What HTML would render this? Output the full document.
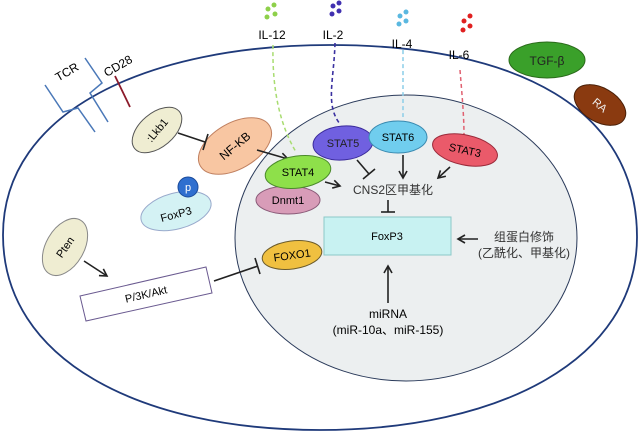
<!DOCTYPE html>
<html><head><meta charset="utf-8"><style>
html,body{margin:0;padding:0;background:#fff;}
svg{display:block;font-family:"Liberation Sans","Noto Sans CJK SC",sans-serif;}
</style></head><body>
<svg width="640" height="432" viewBox="0 0 640 432" xmlns="http://www.w3.org/2000/svg">
<defs>
<marker id="ar" markerWidth="10" markerHeight="10" refX="8" refY="5" orient="auto" markerUnits="userSpaceOnUse"><path d="M1,1 L8,5 L1,9" fill="none" stroke="#222" stroke-width="1.6"/></marker>
</defs>
<path d="M3,235 C3,110 150,45 330,45 C520,45 637,110 637,237 C637,360 500,430 320,430 C140,430 3,360 3,235Z" fill="#fff" stroke="#1f3a7a" stroke-width="1.8"/>
<ellipse cx="406" cy="238" rx="171" ry="143" fill="#eceff0" stroke="#2a3a5a" stroke-width="1"/>
<!-- TCR / CD28 -->
<polyline points="45,85 63,112 78,108 95,132" fill="none" stroke="#4a78b8" stroke-width="1.5"/>
<polyline points="85,58 102,83 90,93 108,122" fill="none" stroke="#4a78b8" stroke-width="1.5"/>
<line x1="115" y1="76" x2="130" y2="107" stroke="#8b1a2a" stroke-width="1.8"/>
<text x="67" y="76" font-size="12" transform="rotate(-30 67 72)" text-anchor="middle">TCR</text>
<text x="118" y="70" font-size="12" transform="rotate(-30 118 66)" text-anchor="middle">CD28</text>
<!-- cytokines -->
<g fill="#8ed04a"><circle cx="268" cy="9" r="2.5"/><circle cx="274" cy="5" r="2.5"/><circle cx="267" cy="17" r="2.5"/><circle cx="275" cy="14" r="2.5"/></g>
<g fill="#4030b0"><circle cx="333" cy="6" r="2.5"/><circle cx="339" cy="3" r="2.5"/><circle cx="332" cy="14" r="2.5"/><circle cx="339" cy="11" r="2.5"/></g>
<g fill="#5ab8e0"><circle cx="400" cy="16" r="2.5"/><circle cx="406" cy="12" r="2.5"/><circle cx="399" cy="24" r="2.5"/><circle cx="406" cy="21" r="2.5"/></g>
<g fill="#e02020"><circle cx="464" cy="21" r="2.5"/><circle cx="470" cy="16" r="2.5"/><circle cx="463" cy="30" r="2.5"/><circle cx="470" cy="26" r="2.5"/></g>
<text x="272" y="39" font-size="12" text-anchor="middle">IL-12</text>
<text x="333" y="39" font-size="12" text-anchor="middle">IL-2</text>
<text x="402" y="48" font-size="12" text-anchor="middle">IL-4</text>
<text x="459" y="59" font-size="12" text-anchor="middle">IL-6</text>
<path d="M273,45 C272,90 280,125 296,152" fill="none" stroke="#a8dc70" stroke-width="1.5" stroke-dasharray="4,3"/>
<path d="M335,43 C334,80 325,105 340,124" fill="none" stroke="#3a30a0" stroke-width="1.6" stroke-dasharray="4,3"/>
<path d="M403,50 C403,80 403,100 403,118" fill="none" stroke="#8ccde8" stroke-width="1.5" stroke-dasharray="4,3"/>
<path d="M460,70 C462,95 464,115 464,136" fill="none" stroke="#e06070" stroke-width="1.5" stroke-dasharray="4,3"/>
<!-- TGF/RA -->
<ellipse cx="547" cy="60" rx="38" ry="18" fill="#3aa02a" stroke="#2a6a1a"/>
<text x="547" y="65" font-size="12" text-anchor="middle" fill="#222">TGF-β</text>
<ellipse cx="600" cy="105" rx="28" ry="17" fill="#8a3a10" stroke="#4a2008" transform="rotate(30 600 105)"/>
<text x="600" y="109" font-size="11" text-anchor="middle" fill="#eee" transform="rotate(40 600 105)">RA</text>
<!-- Lkb1, NF-KB -->
<ellipse cx="157" cy="130" rx="29" ry="17" fill="#efedd2" stroke="#555" transform="rotate(-40 157 130)"/>
<text x="157" y="134" font-size="11" text-anchor="middle" transform="rotate(-50 157 130)">:Lkb1</text>
<ellipse cx="235" cy="146" rx="40" ry="23" fill="#f8c6a2" stroke="#c08060" transform="rotate(-30 235 146)"/>
<text x="235" y="150" font-size="12" text-anchor="middle" transform="rotate(-40 235 146)">NF-KB</text>
<line x1="178" y1="133" x2="205" y2="142" stroke="#222" stroke-width="1.6"/>
<line x1="208" y1="134" x2="203" y2="150" stroke="#222" stroke-width="1.6"/>
<line x1="257" y1="150" x2="288" y2="159" stroke="#222" stroke-width="1.6" marker-end="url(#ar)"/>
<!-- FoxP3 p -->
<ellipse cx="176" cy="211" rx="36" ry="18" fill="#d4f2f4" stroke="#9ac" transform="rotate(-15 176 211)"/>
<text x="176" y="218" font-size="11" text-anchor="middle" transform="rotate(-15 176 214)">FoxP3</text>
<circle cx="188" cy="187" r="10" fill="#2f6fcf" stroke="#1a4a9a"/>
<text x="188" y="191" font-size="11" text-anchor="middle" fill="#fff">p</text>
<!-- STATs -->
<ellipse cx="288" cy="200" rx="32" ry="14" fill="#d89cb8" stroke="#8a5a78"/>
<text x="288" y="204" font-size="11" text-anchor="middle">Dnmt1</text>
<ellipse cx="298" cy="172" rx="33" ry="16" fill="#8ee04a" stroke="#4a8a2a" transform="rotate(-8 298 172)"/>
<text x="298" y="176" font-size="11" text-anchor="middle">STAT4</text>
<ellipse cx="343" cy="143" rx="30" ry="17" fill="#7060e0" stroke="#3a2a9a" transform="rotate(-5 343 143)"/>
<text x="343" y="147" font-size="11" text-anchor="middle" fill="#222">STAT5</text>
<ellipse cx="398" cy="137" rx="29" ry="16" fill="#70cdee" stroke="#3a8ab0"/>
<text x="398" y="141" font-size="11" text-anchor="middle">STAT6</text>
<ellipse cx="465" cy="150" rx="33" ry="15" fill="#ea5a6a" stroke="#9a2a3a" transform="rotate(12 465 150)"/>
<text x="465" y="154" font-size="11" text-anchor="middle" transform="rotate(12 465 150)">STAT3</text>
<!-- arrows to CNS2 -->
<line x1="357" y1="160" x2="369" y2="174" stroke="#222" stroke-width="1.6"/>
<line x1="363" y1="179" x2="375" y2="169" stroke="#222" stroke-width="1.6"/>
<line x1="403" y1="155" x2="403" y2="178" stroke="#222" stroke-width="1.6" marker-end="url(#ar)"/>
<line x1="450" y1="167" x2="438" y2="178" stroke="#222" stroke-width="1.6" marker-end="url(#ar)"/>
<line x1="325" y1="182" x2="340" y2="186" stroke="#222" stroke-width="1.6" marker-end="url(#ar)"/>
<text x="393" y="194" font-size="12" text-anchor="middle" fill="#333">CNS2区甲基化</text>
<line x1="388" y1="200" x2="388" y2="212" stroke="#222" stroke-width="1.6"/>
<line x1="381" y1="212" x2="395" y2="212" stroke="#222" stroke-width="1.6"/>
<!-- FoxP3 box -->
<rect x="324" y="217" width="127" height="38" fill="#c8f2f2" stroke="#8cc8c8"/>
<text x="387" y="240" font-size="11" text-anchor="middle">FoxP3</text>
<ellipse cx="292" cy="255" rx="30" ry="14" fill="#f0c040" stroke="#6a5a2a" transform="rotate(-8 292 255)"/>
<text x="292" y="259" font-size="11" text-anchor="middle" transform="rotate(-8 292 255)">FOXO1</text>
<line x1="478" y1="239" x2="458" y2="239" stroke="#222" stroke-width="1.6" marker-end="url(#ar)"/>
<text x="524" y="241" font-size="12" text-anchor="middle" fill="#333">组蛋白修饰</text>
<text x="524" y="257" font-size="12" text-anchor="middle" fill="#333">(乙酰化、甲基化)</text>
<line x1="388" y1="303" x2="388" y2="266" stroke="#222" stroke-width="1.6" marker-end="url(#ar)"/>
<text x="388" y="318" font-size="12" text-anchor="middle">miRNA</text>
<text x="388" y="334" font-size="12" text-anchor="middle">(miR-10a、miR-155)</text>
<!-- Pten / PI3K -->
<ellipse cx="65" cy="247" rx="19" ry="31" fill="#efedd2" stroke="#888" transform="rotate(30 65 247)"/>
<text x="65" y="251" font-size="11" text-anchor="middle" transform="rotate(-55 65 247)">Pten</text>
<line x1="84" y1="261" x2="107" y2="276" stroke="#222" stroke-width="1.6" marker-end="url(#ar)"/>
<polygon points="80,296 206,267 212,293 86,321" fill="#fff" stroke="#6a5a90"/>
<text x="146" y="298" font-size="11" text-anchor="middle" transform="rotate(-13 146 294)">P/3K/Akt</text>
<line x1="214" y1="281" x2="258" y2="266" stroke="#222" stroke-width="1.6"/>
<line x1="255" y1="258" x2="260" y2="274" stroke="#222" stroke-width="1.6"/>
</svg>
</body></html>
